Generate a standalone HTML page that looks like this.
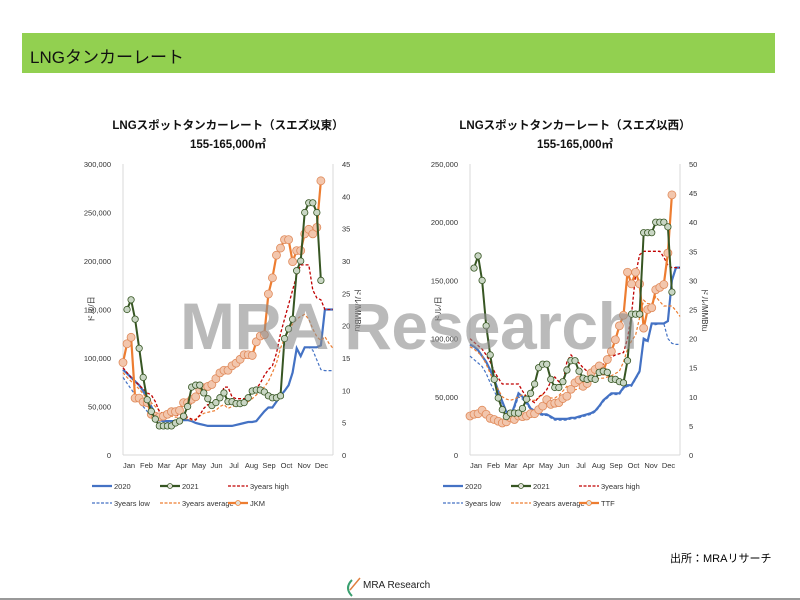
<!DOCTYPE html>
<html><head><meta charset="utf-8">
<style>
body{margin:0;width:800px;height:600px;background:#fff;overflow:hidden;font-family:"Liberation Sans","Noto Sans CJK JP",sans-serif;}
#wrap{position:relative;width:800px;height:600px;}
.hdr{position:absolute;left:22px;top:33px;width:753px;height:40px;background:#92d050;}
.hdr span{position:absolute;left:8px;top:10px;font-size:17px;color:#111;}
.ttl{position:absolute;width:300px;text-align:center;font-size:11.5px;font-weight:bold;color:#111;}
.wm{position:absolute;left:180px;top:288px;font-size:66px;font-weight:bold;color:rgba(140,140,140,0.6);white-space:nowrap;letter-spacing:-0.5px;}
.src{position:absolute;left:670px;top:550px;font-size:11px;}
.logo{position:absolute;left:345px;top:580px;font-size:10px;color:#222;}
.bl{position:absolute;left:0;top:598px;width:800px;height:2px;background:#999;}
svg{position:absolute;left:0;top:0;}
</style></head>
<body><div id="wrap">
<div class="hdr"><span>LNGタンカーレート</span></div>
<div class="ttl" style="left:78px;top:117px">LNGスポットタンカーレート（スエズ以東）</div>
<div class="ttl" style="left:78px;top:136px">155-165,000㎥</div>
<div class="ttl" style="left:425px;top:117px">LNGスポットタンカーレート（スエズ以西）</div>
<div class="ttl" style="left:425px;top:136px">155-165,000㎥</div>
<svg id="svg" width="800" height="600"></svg>
<div class="wm">MRA Research</div>
<div class="src">出所：MRAリサーチ</div>
<svg width="800" height="600" style="pointer-events:none"><path d="M352 580 q-8 8 0 16" stroke="#3aa070" stroke-width="2" fill="none"/><path d="M350 590 l10 -12" stroke="#e08040" stroke-width="1.5"/></svg>
<div class="logo" style="left:363px">MRA Research</div>
<div class="bl"></div>
</div>
<script>
const months=["Jan","Feb","Mar","Apr","May","Jun","Jul","Aug","Sep","Oct","Nov","Dec"];
// Left chart (east of Suez), values in thousand $/day, weekly
const east2020=[88,84,80,76,72,66,58,50,42,36,35,35,35,35,35,36,36,35,33,32,31,30,30,30,30,30,30,30,31,32,33,34,34,35,40,45,49,49,55,61,66,72,85,110,102,111,111,111,111,113,150,150,150];
const east2021=[null,150,160,140,110,80,57,45,37,30,30,30,30,33,35,40,50,70,72,72,64,58,51,54,59,64,55,55,53,53,54,59,66,67,67,65,61,59,59,61,120,130,140,190,200,250,260,260,250,180];
const eastHigh=[90,85,80,76,72,68,64,62,55,45,42,42,42,42,40,40,39,37,36,41,48,52,52,52,56,70,70,60,58,58,58,60,64,68,74,82,88,92,105,125,140,155,170,185,196,196,196,170,162,160,150,150,150];
const eastLow=[80,74,68,62,56,50,45,40,37,35,35,35,35,35,35,36,36,35,33,32,31,30,30,30,30,30,30,30,31,32,33,34,34,35,40,45,49,49,55,61,66,72,85,110,102,111,111,108,98,88,87,87,87];
const eastAvg=[85,80,76,72,68,63,58,54,50,46,42,40,40,39,39,38,37,36,37,40,43,44,45,46,50,52,48,50,51,52,53,55,58,62,66,70,76,85,95,110,120,128,135,140,143,145,140,130,122,118,122,115,110];
const jkm=[14.3,17.2,18.2,8.8,8.8,8.2,8.1,6.3,6,5.9,6,6.3,6.7,6.7,6.9,8.1,8.1,8.6,9,10.1,10.4,10.6,10.9,11.8,12.7,13.1,13.1,13.8,14.2,14.8,15.5,15.5,15.4,17.5,18.4,18.6,24.9,27.4,30.9,32,33.3,33.3,29.9,31.6,31.6,34.2,34.9,34.2,35.2,42.4];
const eastLeftTicks=["0","50,000","100,000","150,000","200,000","250,000","300,000"];
const eastRightTicks=["0","5","10","15","20","25","30","35","40","45"];
// Right chart (west of Suez)
const west2020=[95,93,90,85,80,73,65,55,46,37,33,42,53,50,46,40,38,36,35,35,33,31,31,31,31,32,32,33,34,35,36,38,42,47,50,53,53,53,58,60,60,66,72,100,98,113,113,113,113,115,150,161,161];
const west2021=[null,160.6,171,150,111,86,65,49,39,33,36,36,36,40,48,53,61,75,78,78,65,58,58,63,73,81,81,72,66,65,66,65,71,72,71,65,65,63,62,81,121,121,121,191,191,191,200,200,200,196,140];
const westHigh=[100,97,94,91,86,80,72,66,61,61,61,61,61,55,50,47,45,50,52,56,63,67,63,62,80,86,82,79,75,72,72,73,74,78,81,84,86,87,88,100,121,155,172,175,175,175,175,175,170,163,161,161,161];
const westLow=[85,82,79,76,70,62,55,48,43,38,35,40,50,48,44,39,37,35,34,34,32,30,30,30,30,31,31,32,33,34,35,37,41,46,49,52,52,52,57,59,59,65,71,99,97,112,112,113,113,100,96,95,95];
const westAvg=[93,91,88,85,78,70,62,56,50,48,47,48,50,52,50,47,47,49,52,50,49,49,51,55,59,57,56,57,59,61,63,65,66,66,67,68,70,72,80,91,98,103,118,133,130,130,136,132,128,128,128,124,119];
const ttf=[6.7,7,7.1,7.7,7,6.3,6.1,5.8,5.5,5.7,6.4,6.1,6.7,6.6,6.7,7.1,7.1,7.8,8.4,9.5,8.7,8.9,9,9.7,10.1,11.3,12.4,12.9,11.8,12.3,14.1,14.7,15.3,14.4,16.4,17.8,19.8,22.2,24,31.4,29.4,31.4,29.4,21.8,25,25.3,28.4,28.8,29.3,34.7,44.7];
const westLeftTicks=["0","50,000","100,000","150,000","200,000","250,000"];
const westRightTicks=["0","5","10","15","20","25","30","35","40","45","50"];

const NS="http://www.w3.org/2000/svg";
const svg=document.getElementById('svg');
function mk(tag,attrs,parent){const e=document.createElementNS(NS,tag);for(const k in attrs)e.setAttribute(k,attrs[k]);(parent||svg).appendChild(e);return e;}

function chart(cfg){
  const g=mk('g',{});
  
  
  const x=w=>cfg.x0+w*(cfg.x1-cfg.x0)/52;
  const yL=v=>cfg.yb-v/cfg.lmax*(cfg.yb-cfg.yt);
  const yR=v=>cfg.yb-v/cfg.rmax*(cfg.yb-cfg.yt);
  let a=mk('line',{x1:cfg.x0,y1:cfg.yt,x2:cfg.x0,y2:cfg.yb,stroke:'#d9d9d9'},g);
  
  a=mk('line',{x1:cfg.x1,y1:cfg.yt,x2:cfg.x1,y2:cfg.yb,stroke:'#d9d9d9'},g);
  
  a=mk('line',{x1:cfg.x0,y1:cfg.yb,x2:cfg.x1,y2:cfg.yb,stroke:'#d9d9d9'},g);
  
  cfg.lt.forEach((t,i)=>{const v=i*cfg.lmax/(cfg.lt.length-1);
    const e=mk('text',{x:cfg.x0-12,y:yL(v)+3,'text-anchor':'end','font-size':'7.5',fill:'#333'},g);e.textContent=t;
    });
  cfg.rt.forEach((t,i)=>{const v=i*cfg.rmax/(cfg.rt.length-1);
    const e=mk('text',{x:cfg.x1+9,y:yR(v)+3,'font-size':'7.5',fill:'#333'},g);e.textContent=t;
    });
  months.forEach((m,i)=>{const e=mk('text',{x:x(i*52/12)+6,y:cfg.yb+13,'text-anchor':'middle','font-size':'7.5',fill:'#333'},g);e.textContent=m;
    });
  let t=mk('text',{transform:`translate(${cfg.x0-29},${(cfg.yt+cfg.yb)/2}) rotate(-90)`,'text-anchor':'middle','font-size':'8',fill:'#333'},g);t.textContent='ドル/日';
  
  t=mk('text',{transform:`translate(${cfg.x1+22},${(cfg.yt+cfg.yb)/2}) rotate(90)`,'text-anchor':'middle','font-size':'8',fill:'#333'},g);t.textContent='ドル/MMBtu';
  
  function line(arr,yf,style,name){let d='';let pen=false;
    arr.forEach((v,i)=>{if(v==null){pen=false;return;}d+=(pen?'L':'M')+x(i).toFixed(1)+' '+yf(v).toFixed(1);pen=true;});
    const p=mk('path',Object.assign({d:d,fill:'none'},style),g);
    }
  function marks(arr,yf,r,fill,stroke,name){arr.forEach((v,i)=>{if(v==null)return;
    const c=mk('circle',{cx:x(i),cy:yf(v),r:r,fill:fill,stroke:stroke,'stroke-width':0.8},g);
    });}
  line(cfg.s2020,yL,{stroke:'#4472c4','stroke-width':2.2},'line-2020');
  line(cfg.low,yL,{stroke:'#4472c4','stroke-width':1.2,'stroke-dasharray':'3,2'},'line-3years-low');
  line(cfg.avg,yL,{stroke:'#ed7d31','stroke-width':1.2,'stroke-dasharray':'3,2'},'line-3years-average');
  line(cfg.high,yL,{stroke:'#c00000','stroke-width':1.3,'stroke-dasharray':'3,2'},'line-3years-high');
  line(cfg.price,yR,{stroke:'#ed7d31','stroke-width':2.2},'line-'+cfg.pname.toLowerCase());
  marks(cfg.price,yR,4,'#f2c6ad','#e08a5a','point-'+cfg.pname.toLowerCase());
  line(cfg.s2021,yL,{stroke:'#375623','stroke-width':2},'line-2021');
  marks(cfg.s2021,yL,3.2,'#c9d6c4','#375623','point-2021');
  const L=cfg.lx;const items=[
    [L,486,'2020','solid','#4472c4',false],[L+68,486,'2021','solid','#375623',true],[L+136,486,'3years high','dash','#c00000',false],
    [L,503,'3years low','dash','#4472c4',false],[L+68,503,'3years average','dash','#ed7d31',false],[L+136,503,cfg.pname,'solid','#ed7d31',true]];
  items.forEach(it=>{const lg=mk('g',{},g);
    
    mk('line',{x1:it[0],y1:it[1],x2:it[0]+20,y2:it[1],stroke:it[4],'stroke-width':it[3]=='solid'?2.2:1.3,'stroke-dasharray':it[3]=='dash'?'3,1.5':'none'},lg);
    if(it[5])mk('circle',{cx:it[0]+10,cy:it[1],r:2.5,fill:'#e0e0d8',stroke:it[4],'stroke-width':0.8},lg);
    const e=mk('text',{x:it[0]+22,y:it[1]+3,'font-size':'7.5',fill:'#333'},lg);e.textContent=it[2];});
}
chart({name:'east-chart',x0:123,x1:333,yt:164,yb:455,lmax:300,rmax:45,lt:eastLeftTicks,rt:eastRightTicks,
  s2020:east2020,s2021:east2021,high:eastHigh,low:eastLow,avg:eastAvg,price:jkm,pname:'JKM',lx:92});
chart({name:'west-chart',x0:470,x1:680,yt:164,yb:455,lmax:250,rmax:50,lt:westLeftTicks,rt:westRightTicks,
  s2020:west2020,s2021:west2021,high:westHigh,low:westLow,avg:westAvg,price:ttf,pname:'TTF',lx:443});
</script>
</body></html>
